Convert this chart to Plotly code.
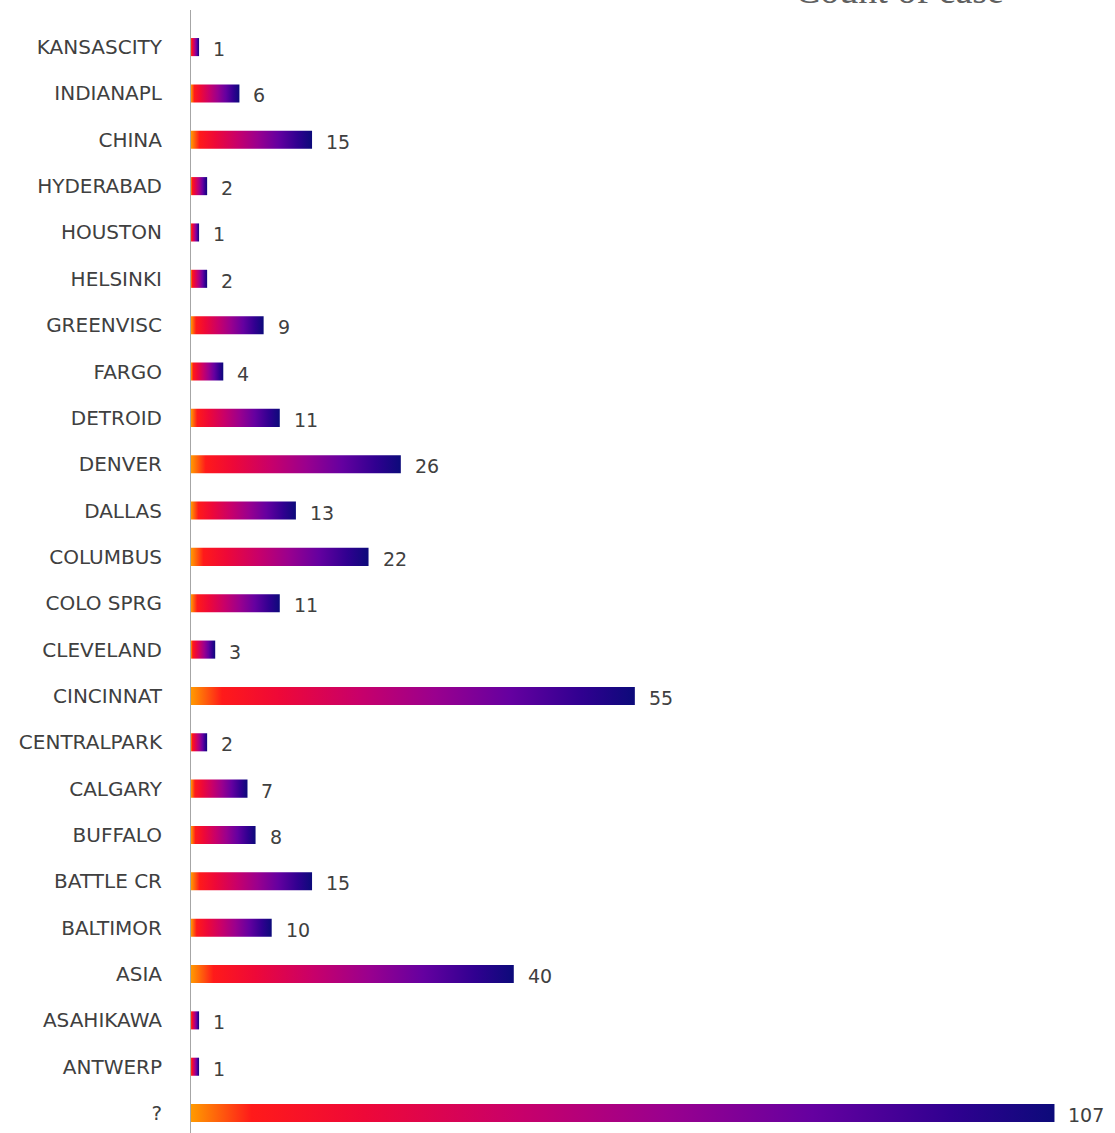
import plotly.graph_objects as go

categories = ["?", "ANTWERP", "ASAHIKAWA", "ASIA", "BALTIMOR", "BATTLE CR", "BUFFALO",
              "CALGARY", "CENTRALPARK", "CINCINNAT", "CLEVELAND", "COLO SPRG", "COLUMBUS",
              "DALLAS", "DENVER", "DETROID", "FARGO", "GREENVISC", "HELSINKI", "HOUSTON",
              "HYDERABAD", "CHINA", "INDIANAPL", "KANSASCITY"]
values = [107, 1, 1, 40, 10, 15, 8, 7, 2, 55, 3, 11, 22, 13, 26, 11, 4, 9, 2, 1, 2, 15, 6, 1]
title_text = "Count of case"

gradient = [[0.0, "#ff9a00"], [0.07, "#ff1a1a"], [0.2, "#ee0838"], [0.38, "#c8006a"],
            [0.55, "#9a008e"], [0.72, "#6500a0"], [0.88, "#300090"], [1.0, "#0c0a7a"]]

half = 0.195
fig = go.Figure()
for i, (c, v) in enumerate(zip(categories, values)):
    fig.add_trace(go.Scatter(
        x=[0, v, v, 0, 0], y=[i - half, i - half, i + half, i + half, i - half],
        mode="lines", line=dict(width=0), fill="toself",
        fillgradient=dict(type="horizontal", colorscale=gradient),
        hoverinfo="skip", showlegend=False))
    fig.add_annotation(x=v, y=i, text=str(v), showarrow=False, xanchor="left",
                       xshift=12, yshift=-2, font=dict(size=19, color="#404040"))

fig.add_annotation(xref="paper", yref="paper", x=0.767, xanchor="center", y=1.0,
                   yanchor="bottom", text=title_text, showarrow=False, yshift=-3,
                   font=dict(size=38, color="#606060", family="Liberation Serif"))

fig.update_layout(
    width=1115, height=1133,
    margin=dict(l=191, r=0, t=10, b=0),
    paper_bgcolor="white", plot_bgcolor="white",
    font=dict(family="DejaVu Sans", size=20, color="#404040"),
    xaxis=dict(range=[0, 114.5], showgrid=False, zeroline=False, showticklabels=False,
               showline=False, automargin=False),
    yaxis=dict(range=[-0.43, 23.8], tickvals=list(range(len(categories))),
               ticktext=categories, showgrid=False, zeroline=False,
               showline=True, linecolor="#a6a6a6", linewidth=1,
               ticks="", ticklabelstandoff=24, automargin=False),
)
fig.write_html("out.html", config={"displayModeBar": False},
               post_script="document.body.style.margin='0';document.body.style.overflow='hidden';")
